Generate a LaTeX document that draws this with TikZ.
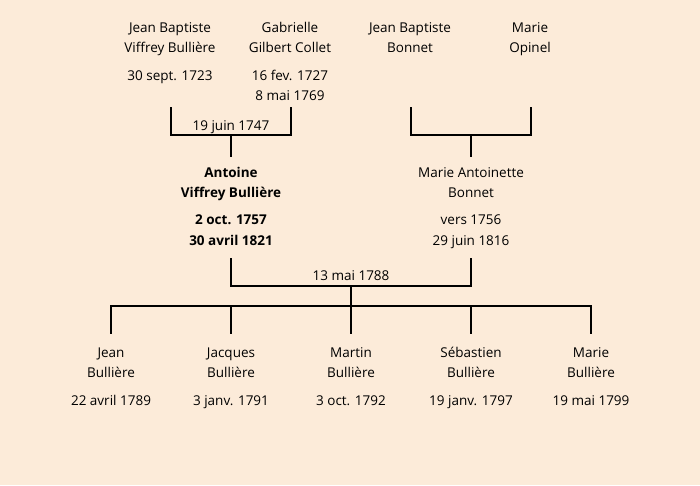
\documentclass[tikz,border=0pt]{standalone}
\usepackage{fontspec}
\setmainfont{Open Sans}
\definecolor{bg}{RGB}{252,235,217}
\begin{document}
\begin{tikzpicture}[x=1pt,y=-1pt,
  txt/.style={inner sep=0pt,anchor=center,text height=12pt,text depth=2pt,font=\fontsize{13.5}{15}\selectfont},
  btxt/.style={txt,font=\fontsize{13.5}{15}\selectfont\bfseries},
  link/.style={line width=2pt,line cap=rect}]
\fill[bg] (0,0) rectangle (700,485);
\useasboundingbox (0,0) rectangle (700,485);
% top generation
\node[txt] (jb1) at (170,27) {Jean Baptiste};
\node[txt] (jb1b) at (170,47) {Viffrey Bullière};
\node[txt] (jb1d) at (170,75) {30 sept. 1723};
\node[txt] (ga) at (290,27) {Gabrielle};
\node[txt] (gab) at (290,47) {Gilbert Collet};
\node[txt] (gad) at (290,75) {16 fev. 1727};
\node[txt] (gad2) at (290,95) {8 mai 1769};
\node[txt] (jb2) at (410,27) {Jean Baptiste};
\node[txt] (jb2b) at (410,47) {Bonnet};
\node[txt] (mo) at (530,27) {Marie};
\node[txt] (mob) at (530,47) {Opinel};
% brackets top
\coordinate (a1) at (171,108); \coordinate (a2) at (171,135);
\coordinate (b1) at (291,108); \coordinate (b2) at (291,135);
\coordinate (c1) at (231,135); \coordinate (c2) at (231,156);
\draw[link] (a1) -- (a2) -- (b2) -- (b1);
\draw[link] (c1) -- (c2);
\node[txt] (m1) at (231,125) {19 juin 1747};
\coordinate (d1) at (411,108); \coordinate (d2) at (411,135);
\coordinate (e1) at (531,108); \coordinate (e2) at (531,135);
\coordinate (f1) at (471,135); \coordinate (f2) at (471,156);
\draw[link] (d1) -- (d2) -- (e2) -- (e1);
\draw[link] (f1) -- (f2);
% middle generation
\node[btxt] (an) at (231,172) {Antoine};
\node[btxt] (anb) at (231,192) {Viffrey Bullière};
\node[btxt] (and) at (231,219) {2 oct. 1757};
\node[btxt] (and2) at (231,240) {30 avril 1821};
\node[txt] (ma) at (471,172) {Marie Antoinette};
\node[txt] (mab) at (471,192) {Bonnet};
\node[txt] (mad) at (471,219) {vers 1756};
\node[txt] (mad2) at (471,240) {29 juin 1816};
% bracket middle
\coordinate (g1) at (231,259); \coordinate (g2) at (231,286);
\coordinate (h1) at (471,259); \coordinate (h2) at (471,286);
\coordinate (i1) at (351,286); \coordinate (i2) at (351,306);
\draw[link] (g1) -- (g2) -- (h2) -- (h1);
\draw[link] (i1) -- (i2);
\node[txt] (m2) at (351,275) {13 mai 1788};
% children bar
\coordinate (k0) at (111,306); \coordinate (k4) at (591,306);
\draw[link] (k0) -- (k4);
\foreach \x/\n in {111/0,231/1,351/2,471/3,591/4}{
  \coordinate (top\n) at (\x,306); \coordinate (bot\n) at (\x,333);
  \draw[link] (top\n) -- (bot\n);
}
% children
\node[txt] (c1n) at (111,352) {Jean};
\node[txt] (c1b) at (111,372) {Bullière};
\node[txt] (c1d) at (111,400) {22 avril 1789};
\node[txt] (c2n) at (231,352) {Jacques};
\node[txt] (c2b) at (231,372) {Bullière};
\node[txt] (c2d) at (231,400) {3 janv. 1791};
\node[txt] (c3n) at (351,352) {Martin};
\node[txt] (c3b) at (351,372) {Bullière};
\node[txt] (c3d) at (351,400) {3 oct. 1792};
\node[txt] (c4n) at (471,352) {Sébastien};
\node[txt] (c4b) at (471,372) {Bullière};
\node[txt] (c4d) at (471,400) {19 janv. 1797};
\node[txt] (c5n) at (591,352) {Marie};
\node[txt] (c5b) at (591,372) {Bullière};
\node[txt] (c5d) at (591,400) {19 mai 1799};
\end{tikzpicture}
\end{document}
